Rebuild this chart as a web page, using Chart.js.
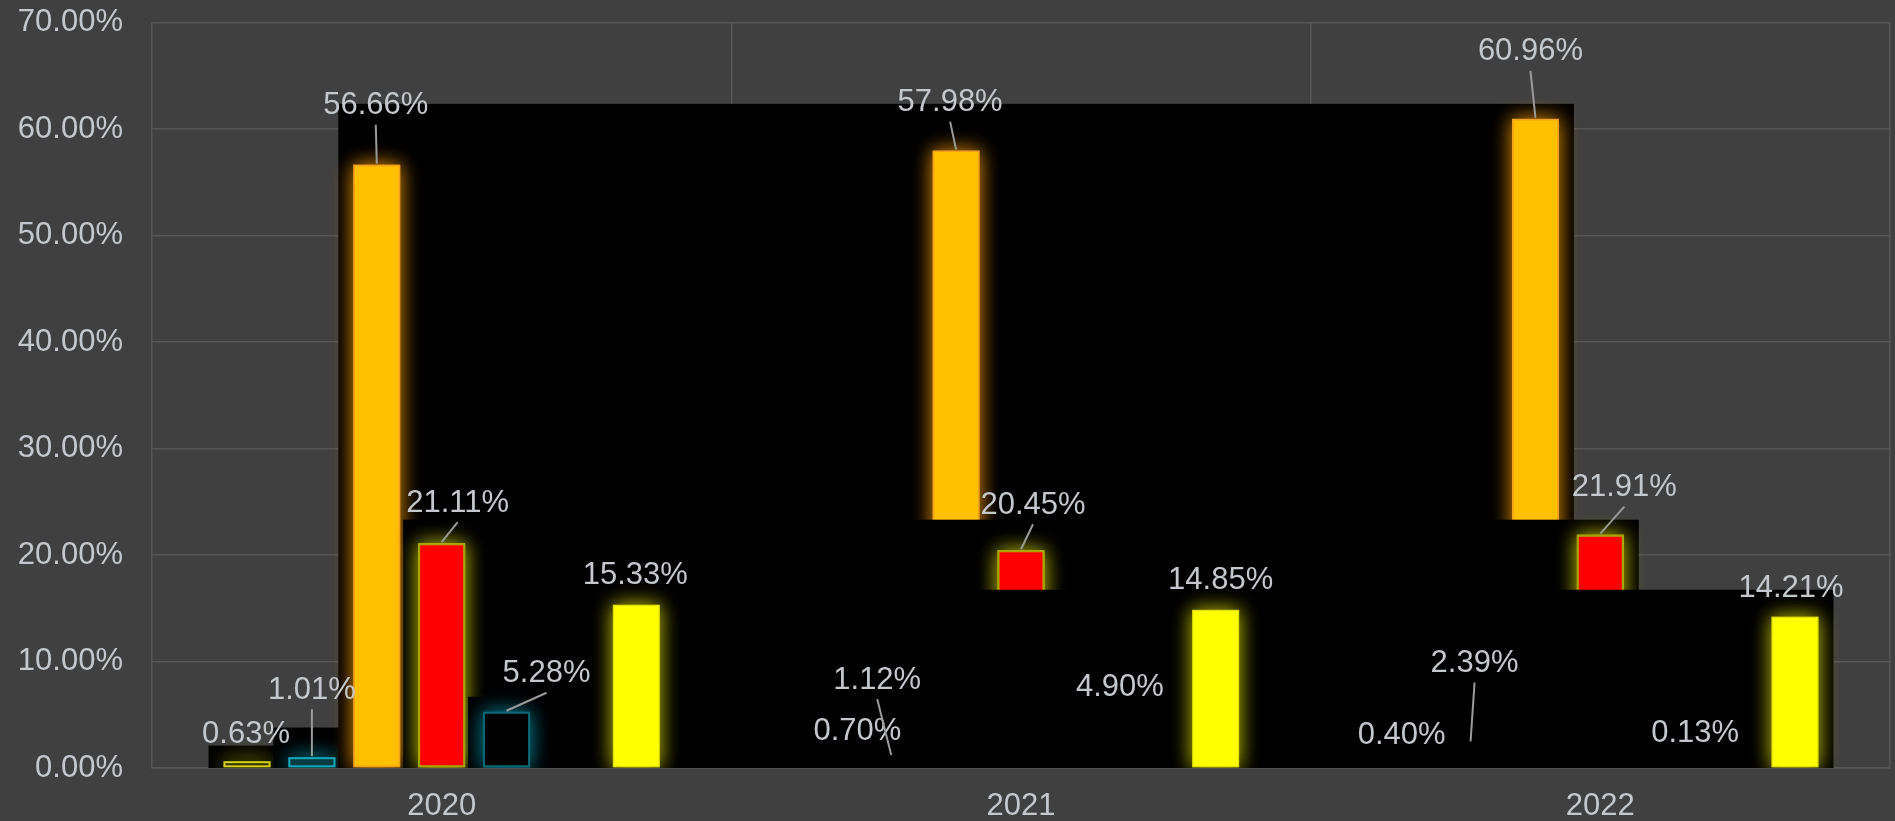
<!DOCTYPE html>
<html lang="en">
<head>
<meta charset="UTF-8">
<title>Share by year</title>
<script src="https://cdn.jsdelivr.net/npm/chart.js"></script>
<style>
    html, body {
        margin: 0;
        padding: 0;
        background-color: #404040;
        overflow: hidden;
    }
    canvas {
        display: block;
        background-color: #404040;
    }
</style>
</head>
<body>
<canvas id="myChart" width="1895" height="821"></canvas>
<script>
    // data (percent)
    const years = ['2020', '2021', '2022'];
    const seriesA = [0.63, 0.70, 0.40];
    const seriesB = [1.01, 1.12, 2.39];
    const seriesC = [56.66, 57.98, 60.96];
    const seriesD = [21.11, 20.45, 21.91];
    const seriesE = [5.28, 4.90, 0.13];
    const seriesF = [null, null, null];   // empty slot in every group
    const seriesG = [15.33, 14.85, 14.21];
    const yMin = 0, yMax = 70, yStep = 10;

    // label nudges in px (dx, dy from the bar top), mimics the moved labels
    const labelShift = [
        [[-1, -27], [31, -29], [-4, -28]],
        [[0, -67], [-14, -76], [4, -79]],
        [[-1, -59], [-6, -48], [-5, -67]],
        [[16, -40], [12, -45], [24, -47]],
        [[40, -38], [34, -28], [30, -33]],
        null,
        [[-1, -29], [5, -29], [-4, -28]]
    ];

    const fontFamily = "'Liberation Sans', Arial, sans-serif";
    const textColor = '#c4c8cc';
    const gridColor = '#565656';

    // draws datasets first-to-last, each with its black backdrop and glow
    const glowPlugin = {
        id: 'glowOrder',
        beforeDatasetsDraw(chart) {
            const ctx = chart.ctx;
            const area = chart.chartArea;
            const pad = 15;
            chart.data.datasets.forEach((ds, i) => {
                const meta = chart.getDatasetMeta(i);
                const bars = meta.data.filter((b, j) => ds.data[j] !== null);
                if (!bars.length) return;
                let l = Infinity, r = -Infinity, t = Infinity;
                bars.forEach(b => {
                    l = Math.min(l, b.x - b.width / 2);
                    r = Math.max(r, b.x + b.width / 2);
                    t = Math.min(t, b.y);
                });
                ctx.save();
                ctx.beginPath();
                ctx.rect(area.left, area.top, area.width, area.height);
                ctx.clip();
                ctx.fillStyle = '#000';
                ctx.fillRect(l - pad, t - pad, r - l + pad * 2, area.bottom - t + pad);
                bars.forEach(b => {
                    ctx.save();
                    ctx.shadowColor = ds.glowColor;
                    ctx.shadowBlur = 20;
                    ctx.fillStyle = ds.glowColor;
                    ctx.fillRect(b.x - b.width / 2, b.y, b.width, b.base - b.y);
                    ctx.fillRect(b.x - b.width / 2, b.y, b.width, b.base - b.y);
                    ctx.restore();
                });
                meta.controller.draw();
                ctx.restore();
            });
            return false;
        }
    };

    // value labels with leader lines, drawn on top of everything
    const labelPlugin = {
        id: 'barLabels',
        afterDraw(chart) {
            const ctx = chart.ctx;
            ctx.save();
            ctx.font = '31px ' + fontFamily;
            ctx.textAlign = 'center';
            ctx.textBaseline = 'middle';
            chart.data.datasets.forEach((ds, i) => {
                if (!labelShift[i]) return;
                const meta = chart.getDatasetMeta(i);
                meta.data.forEach((b, j) => {
                    const v = ds.data[j];
                    if (v === null) return;
                    const [dx, dy] = labelShift[i][j];
                    const lx = b.x + dx, ly = b.y + dy;
                    if (dy < -35) {
                        ctx.strokeStyle = '#9a9a9a';
                        ctx.lineWidth = 2;
                        ctx.beginPath();
                        ctx.moveTo(lx, ly + 19);
                        ctx.lineTo(b.x, b.y - 1);
                        ctx.stroke();
                    }
                    ctx.fillStyle = textColor;
                    ctx.fillText(v.toFixed(2) + '%', lx, ly);
                });
            });
            ctx.restore();
        }
    };

    function makeSet(label, data, bg, border, bw, glow) {
        return {
            label: label,
            data: data,
            backgroundColor: bg,
            borderColor: border,
            borderWidth: bw,
            borderSkipped: false,
            glowColor: glow,
            categoryPercentage: 0.784,
            barPercentage: 0.724
        };
    }

    const ctx = document.getElementById('myChart').getContext('2d');
    new Chart(ctx, {
        type: 'bar',
        data: {
            labels: years,
            datasets: [
                makeSet('A', seriesA, '#343400', '#d0d020', 2, 'rgba(170,170,0,0.8)'),
                makeSet('B', seriesB, '#0a3b42', '#16a6b8', 2, 'rgba(0,150,170,0.8)'),
                makeSet('C', seriesC, '#FFC000', '#f2a322', 1.5, 'rgba(220,140,0,0.8)'),
                makeSet('D', seriesD, '#FF0000', '#a6a600', 2, 'rgba(190,190,0,0.8)'),
                makeSet('E', seriesE, '#000000', '#0b6672', 2, 'rgba(0,130,150,0.8)'),
                makeSet('F', seriesF, '#000000', '#000000', 0, 'rgba(0,0,0,0)'),
                makeSet('G', seriesG, '#FFFF00', '#e0e000', 1, 'rgba(190,190,0,0.8)')
            ]
        },
        options: {
            responsive: false,
            animation: false,
            devicePixelRatio: 1,
            layout: { padding: { top: 0, right: 5, left: 0, bottom: 0 } },
            plugins: {
                legend: { display: false },
                tooltip: { enabled: false }
            },
            scales: {
                x: {
                    grid: { color: gridColor, lineWidth: 1.5, offset: true, drawTicks: false },
                    border: { color: gridColor, width: 1.5 },
                    ticks: { color: textColor, font: { size: 31, family: fontFamily }, padding: 20 },
                    afterFit(scale) { scale.height = 821 - 768; }
                },
                y: {
                    min: yMin,
                    max: yMax,
                    grid: {
                        color: gridColor,
                        lineWidth: 1.5,
                        drawTicks: true,
                        tickLength: 25,
                        tickColor: 'rgba(0,0,0,0)'
                    },
                    border: { display: false },
                    ticks: {
                        stepSize: yStep,
                        color: textColor,
                        font: { size: 31, family: fontFamily },
                        padding: 4,
                        callback: v => v.toFixed(2) + '%'
                    },
                    afterFit(scale) { scale.width = 152; }
                }
            }
        },
        plugins: [glowPlugin, labelPlugin]
    });
</script>
</body>
</html>
